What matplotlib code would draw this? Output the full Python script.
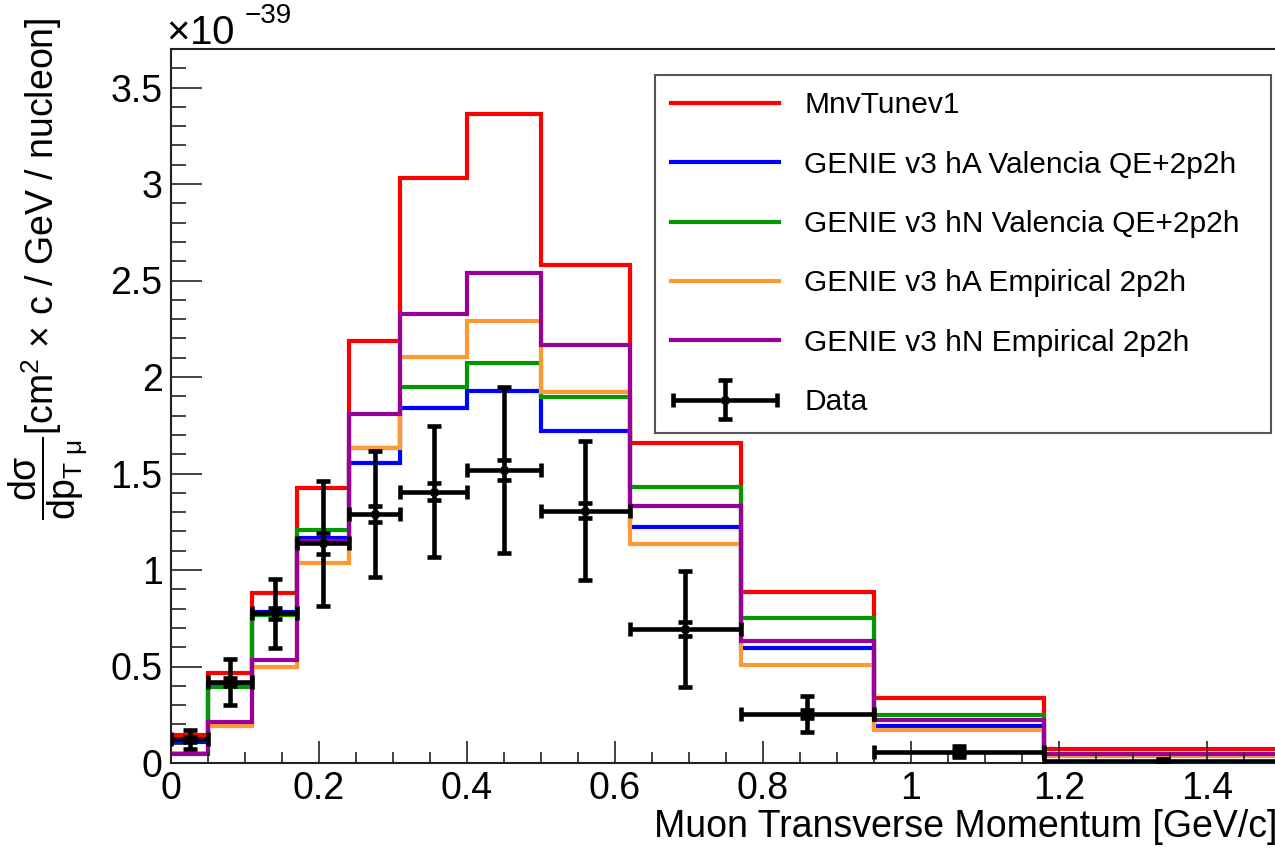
import numpy as np
import matplotlib
matplotlib.use('Agg')
import matplotlib.pyplot as plt
from matplotlib.ticker import MultipleLocator
from matplotlib.legend_handler import HandlerErrorbar

# bins in muon pT [GeV/c], cross sections in units of 1e-39 cm^2 c/GeV/nucleon
edges = [0, 0.05, 0.11, 0.17, 0.24, 0.31, 0.40, 0.50, 0.62, 0.77, 0.95, 1.18, 1.5]

mnv_tune = [0.145, 0.468, 0.880, 1.425, 2.185, 3.030, 3.363, 2.580, 1.656, 0.888, 0.336, 0.071]
ha_valencia = [0.110, 0.410, 0.780, 1.166, 1.553, 1.838, 1.927, 1.722, 1.224, 0.594, 0.192, 0.042]
hn_valencia = [0.120, 0.395, 0.767, 1.207, 1.633, 1.950, 2.071, 1.898, 1.428, 0.750, 0.249, 0.045]
ha_empirical = [0.050, 0.190, 0.500, 1.036, 1.633, 2.105, 2.290, 1.924, 1.135, 0.508, 0.169, 0.038]
hn_empirical = [0.045, 0.214, 0.534, 1.150, 1.808, 2.326, 2.537, 2.166, 1.332, 0.634, 0.223, 0.047]

data = [0.123, 0.420, 0.775, 1.138, 1.290, 1.406, 1.518, 1.307, 0.693, 0.254, 0.059, 0.012]
data_tot_err = [0.050, 0.120, 0.180, 0.325, 0.325, 0.340, 0.430, 0.360, 0.300, 0.094, 0.030, 0.008]
data_stat_err = [0.012, 0.020, 0.030, 0.055, 0.040, 0.045, 0.052, 0.040, 0.036, 0.020, 0.010, 0.004]

labels = ['MnvTunev1', 'GENIE v3 hA Valencia QE+2p2h', 'GENIE v3 hN Valencia QE+2p2h',
          'GENIE v3 hA Empirical 2p2h', 'GENIE v3 hN Empirical 2p2h']
colors = ['#ff0000', '#0000ff', '#009900', '#ff9933', '#990099']

xticks = [0, 0.2, 0.4, 0.6, 0.8, 1.0, 1.2, 1.4]
xtick_labels = ['0', '0.2', '0.4', '0.6', '0.8', '1', '1.2', '1.4']
yticks = [0, 0.5, 1, 1.5, 2, 2.5, 3, 3.5]
ytick_labels = ['0', '0.5', '1', '1.5', '2', '2.5', '3', '3.5']

plt.rcParams['font.family'] = ['Liberation Sans', 'DejaVu Sans']
plt.rcParams['mathtext.fontset'] = 'custom'
plt.rcParams['mathtext.rm'] = 'Liberation Sans'
plt.rcParams['mathtext.it'] = 'Liberation Sans'
plt.rcParams['mathtext.bf'] = 'Liberation Sans:bold'

W, H = 1275, 851
fig = plt.figure(figsize=(W/100, H/100), dpi=100)
# axes: x=0 at 171px, 740 px per GeV/c, y=0 at 763px, 193 px per unit
ax = fig.add_axes([171/W, (H-763)/H, 1.5*740/W, 3.7*193/H])

edges = np.array(edges)
centers = 0.5*(edges[1:] + edges[:-1])
half = 0.5*(edges[1:] - edges[:-1])

handles = []
for vals, c, lab in zip([mnv_tune, ha_valencia, hn_valencia, ha_empirical, hn_empirical], colors, labels):
    h = ax.stairs(vals, edges, baseline=None, color=c, linewidth=3, label=lab)
    handles.append(h)

eb = ax.errorbar(centers, data, xerr=half, yerr=data_tot_err, fmt='s', ms=5, color='k',
                 elinewidth=3.3, capsize=5, capthick=3.3, label='Data', zorder=5)
# inner (statistical) error caps
ax.errorbar(centers, data, yerr=data_stat_err, fmt='none', ecolor='k', elinewidth=0,
            capsize=5, capthick=3.3, zorder=5)
handles.append(eb)

ax.set_xlim(0, 1.5)
ax.set_ylim(0, 3.7)
ax.set_xticks(xticks)
ax.set_xticklabels(xtick_labels)
ax.set_yticks(yticks)
ax.set_yticklabels(ytick_labels)
ax.xaxis.set_minor_locator(MultipleLocator(0.05))
ax.yaxis.set_minor_locator(MultipleLocator(0.1))
ax.tick_params(which='both', direction='in', width=1.2, colors='#222222', labelcolor='black',
               labelsize=27)
ax.tick_params(axis='x', which='major', length=16, pad=6)
ax.tick_params(axis='x', which='minor', length=8)
ax.tick_params(axis='y', which='major', length=22, pad=6)
ax.tick_params(axis='y', which='minor', length=11)
for s in ax.spines.values():
    s.set_linewidth(1.5)
    s.set_color('#222222')

ax.set_xlabel('Muon Transverse Momentum [GeV/c]', fontsize=27, loc='right', labelpad=1)
ax.xaxis.label.set_position((1277/1281.0, 0))
fig.text(48/W, 1-18/H, r'$\dfrac{d\sigma}{dp_{T\ \mu}}$[cm$^{2}$ $\times$ c / GeV / nucleon]',
         rotation=90, ha='center', va='top', fontsize=27)
fig.text(166/W, 1-44/H, r'$\times$10', fontsize=29, ha='left', va='baseline')
fig.text(245/W, 1-23/H, '\u221239', fontsize=20, ha='left', va='baseline')

leg = ax.legend(handles=handles, loc='upper left',
                bbox_to_anchor=((655-171)/1110, (763-430)/714, (1271-655)/1110, (430-75)/714),
                mode='expand', fontsize=21.5, handlelength=3.6, handletextpad=0.85, labelspacing=1.05,
                borderpad=0.55, frameon=True, fancybox=False, framealpha=1, borderaxespad=0,
                handler_map={eb: HandlerErrorbar(xerr_size=1.75, yerr_size=0.65)})
leg.get_frame().set_edgecolor('#555555')
leg.get_frame().set_linewidth(1.5)

plt.savefig('out.png', dpi=100)
